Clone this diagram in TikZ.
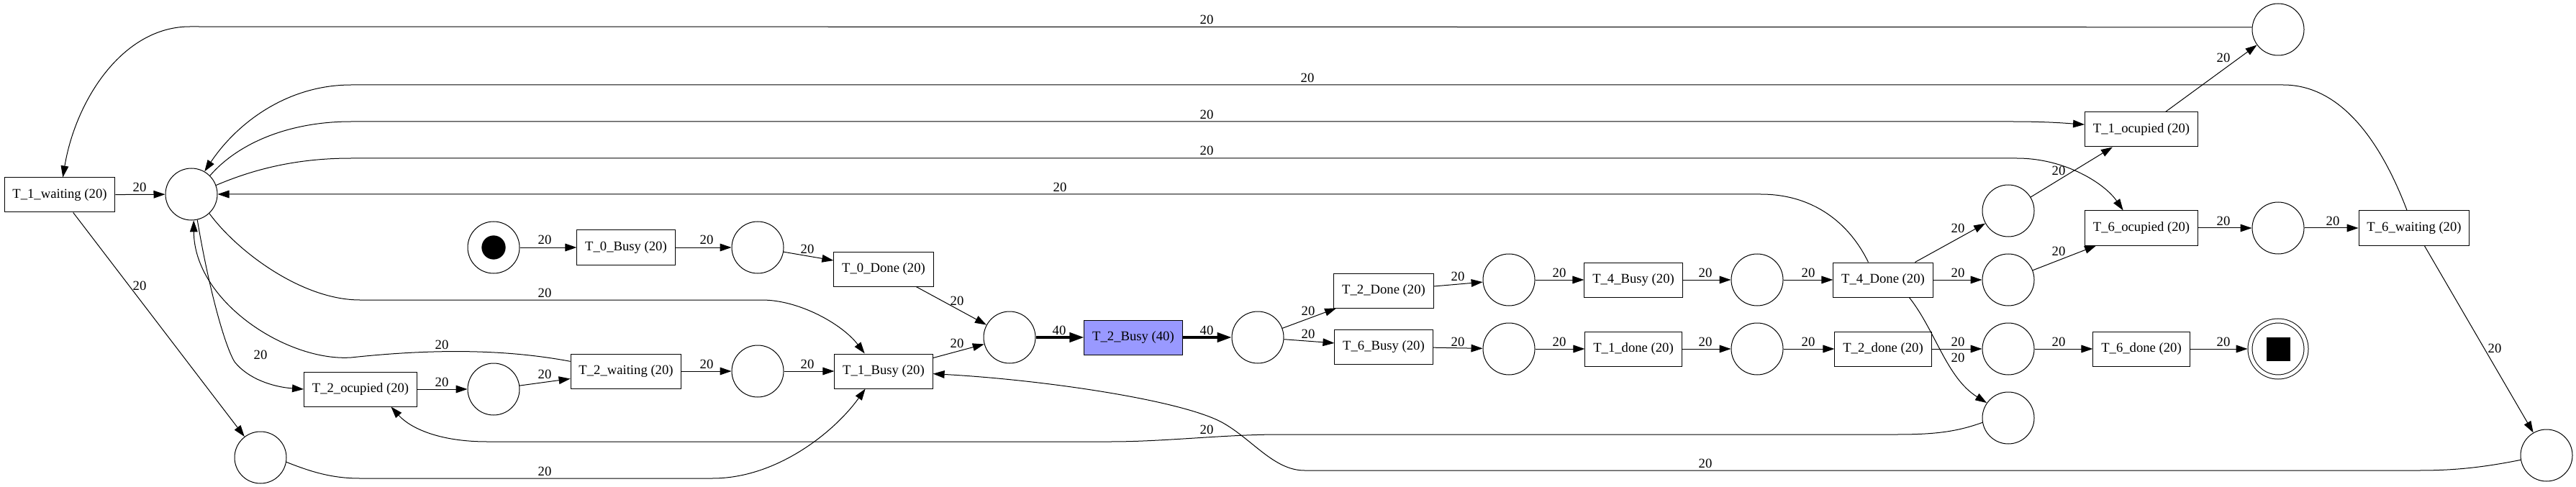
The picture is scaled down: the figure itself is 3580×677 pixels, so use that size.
\documentclass[tikz,border=0pt]{standalone}
\usepackage{fontspec}
\setmainfont{Liberation Serif}
\usetikzlibrary{arrows.meta}
\definecolor{busyblue}{RGB}{153,153,255}

\begin{document}
\begin{tikzpicture}[x=0.75pt,y=-0.75pt,
    every node/.style={font=\fontsize{14}{17}\selectfont},
    place/.style={draw,circle,line width=0.75pt,minimum size=54pt,inner sep=0pt},
    trans/.style={draw,line width=0.75pt,minimum height=36pt,inner xsep=8.5pt},
    arc/.style={line width=0.75pt,-{Triangle[length=12pt,width=8pt]}},
    heavy/.style={line width=2.6pt,-{Triangle[length=15pt,width=10pt]}},
    wt/.style={inner sep=0pt}]
     \useasboundingbox (0,0) rectangle (3580,677);
     \node[trans] (T1waiting) at (83,271)   {T\_1\_waiting (20)};
     \node[trans] (T0Busy)    at (870,344)  {T\_0\_Busy (20)};
     \node[trans] (T0Done)    at (1228,374) {T\_0\_Done (20)};
     \node[trans] (T2ocupied) at (501,541)  {T\_2\_ocupied (20)};
     \node[trans] (T2waiting) at (870,516)  {T\_2\_waiting (20)};
     \node[trans] (T1Busy)    at (1228,516) {T\_1\_Busy (20)};
     \node[trans,fill=busyblue] (T2Busy) at (1575,469) {T\_2\_Busy (40)};
     \node[trans] (T2Done)    at (1923,404) {T\_2\_Done (20)};
     \node[trans] (T6Busy)    at (1923,482) {T\_6\_Busy (20)};
     \node[trans] (T4Busy)    at (2270,389) {T\_4\_Busy (20)};
     \node[trans] (T1done)    at (2270,485) {T\_1\_done (20)};
     \node[trans] (T4Done)    at (2617,389) {T\_4\_Done (20)};
     \node[trans] (T2done)    at (2617,485) {T\_2\_done (20)};
     \node[trans] (T1ocupied) at (2976,180) {T\_1\_ocupied (20)};
     \node[trans] (T6ocupied) at (2976,317) {T\_6\_ocupied (20)};
     \node[trans] (T6done)    at (2976,485) {T\_6\_done (20)};
     \node[trans] (T6waiting) at (3355,317) {T\_6\_waiting (20)};
     \node[place] (hub)    at (266,270)  {};
     \node[place] (pBL)    at (362,636)  {};
     \node[place] (pstart) at (686,344)  {};
     \node[fill,circle,inner sep=0pt,minimum size=25pt] (starttok) at (pstart) {};
     \node[place] (pOc2)   at (686,541)  {};
     \node[place] (pB0)    at (1053,344) {};
     \node[place] (pW2)    at (1053,516) {};
     \node[place] (pmerge) at (1403,469) {};
     \node[place] (pB2)    at (1748,469) {};
     \node[place] (pD2)    at (2097,389) {};
     \node[place] (pB6)    at (2097,485) {};
     \node[place] (pB4)    at (2442,389) {};
     \node[place] (pd1)    at (2442,485) {};
     \node[place] (pD4a)   at (2791,293) {};
     \node[place] (pD4b)   at (2791,389) {};
     \node[place] (pd2)    at (2791,485) {};
     \node[place] (pD4c)   at (2791,581) {};
     \node[place] (pOc1)   at (3166,41)  {};
     \node[place] (pOc6)   at (3166,317) {};
     \node[place,double,double distance=3.75pt,minimum size=58.5pt,outer sep=2.6pt] (pend) at (3166,485) {};
     \node[fill,inner sep=0pt,minimum size=24.75pt] (endtok) at (pend) {};
     \node[place] (pW6)    at (3539,633) {};
     \foreach \a/\b in {pstart/T0Busy, T0Busy/pB0, pB0/T0Done, T0Done/pmerge, T1Busy/pmerge,
        pB2/T2Done, pB2/T6Busy, T2Done/pD2, T6Busy/pB6, pD2/T4Busy, pB6/T1done,
        T4Busy/pB4, T1done/pd1, pB4/T4Done, pd1/T2done, T4Done/pD4a, T4Done/pD4b,
        T2done/pd2, pD4a/T1ocupied, pD4b/T6ocupied, pd2/T6done, T1ocupied/pOc1,
        T6ocupied/pOc6, pOc6/T6waiting, T6done/pend, T6waiting/pW6, T1waiting/hub,
        T1waiting/pBL, T2ocupied/pOc2, pOc2/T2waiting, T2waiting/pW2, pW2/T1Busy}
       \draw[arc] (\a) -- (\b);
     \draw[heavy] (pmerge) -- (T2Busy);
     \draw[heavy] (T2Busy) -- (pB2);
     \draw[arc] (pOc1.175) -- (264,37) .. controls (170,37) and (105,140) .. (T1waiting.80);
     \draw[arc] (T6waiting.112) .. controls (3310,200) and (3255,118) .. (3173,118) -- (488,118)
        .. controls (400,118) and (330,170) .. (hub.60);
     \draw[arc] (hub.45) .. controls (330,200) and (400,169) .. (488,169) -- (2797,169)
        .. controls (2850,169) and (2880,172) .. (T1ocupied.175);
     \draw[arc] (hub.20) .. controls (360,232) and (420,220) .. (488,220) -- (2803,220)
        .. controls (2870,220) and (2925,255) .. (T6ocupied.136);
     \draw[arc] (T4Done.130) .. controls (2570,310) and (2520,270) .. (2447,270) -- (hub.east);
     \draw[arc] (hub.-47) .. controls (330,350) and (420,417) .. (500,417) -- (1059,417)
        .. controls (1110,417) and (1170,450) .. (T1Busy.137);
     \draw[arc] (pBL.-10) .. controls (430,655) and (460,665) .. (500,665) -- (990,665)
        .. controls (1080,665) and (1160,600) .. (T1Busy.-136);
     \draw[arc] (hub.-77) .. controls (290,400) and (312,480) .. (326,503)
        .. controls (345,527) and (380,538) .. (T2ocupied.west);
     \draw[arc] (T2waiting.170) .. controls (700,485) and (600,485) .. (488,497)
        .. controls (400,503) and (270,420) .. (hub.-85);
     \draw[arc] (pD4c.190) .. controls (2720,600) and (2690,604) .. (2636,604) -- (1779,604)
        .. controls (1700,604) and (1620,614) .. (1543,614) -- (677,614)
        .. controls (610,614) and (570,595) .. (T2ocupied.-30);
     \draw[arc] (pW6.190) .. controls (3450,650) and (3410,654) .. (3362,654) -- (1813,654)
        .. controls (1770,654) and (1740,610) .. (1698,587)
        .. controls (1640,556) and (1450,528) .. (T1Busy.-3);
     \draw[arc] (T4Done.-34) .. controls (2690,460) and (2705,525) .. (pD4c.145);
     \foreach \x/\y/\w [count=\i] in {757/333/20, 982/333/20, 1122/346/20, 1330/418/20,
        1330/477/20, 1472/459/40, 1677/459/40, 1818/432/20, 1818/464/20, 2026/384/20,
        2026/475/20, 2167/379/20, 2167/475/20, 2370/379/20, 2370/475/20, 2513/379/20,
        2513/475/20, 2721/317/20, 2721/379/20, 2721/475/20, 2721/497/20, 2861/237/20,
        2861/349/20, 2861/475/20, 3090/80/20, 3090/307/20, 3242/307/20, 3090/475/20,
        3467/484/20, 1677/27/20, 1817/108/20, 1677/159/20, 1677/209/20, 1473/260/20,
        194/260/20, 194/397/20, 362/493/20, 614/479/20, 614/531/20, 757/520/20,
        757/407/20, 757/655/20, 982/506/20, 1122/506/20, 2370/644/20, 1677/597/20}
       \node[wt] (w\i) at (\x,\y) {\w};
\end{tikzpicture}
\end{document}
